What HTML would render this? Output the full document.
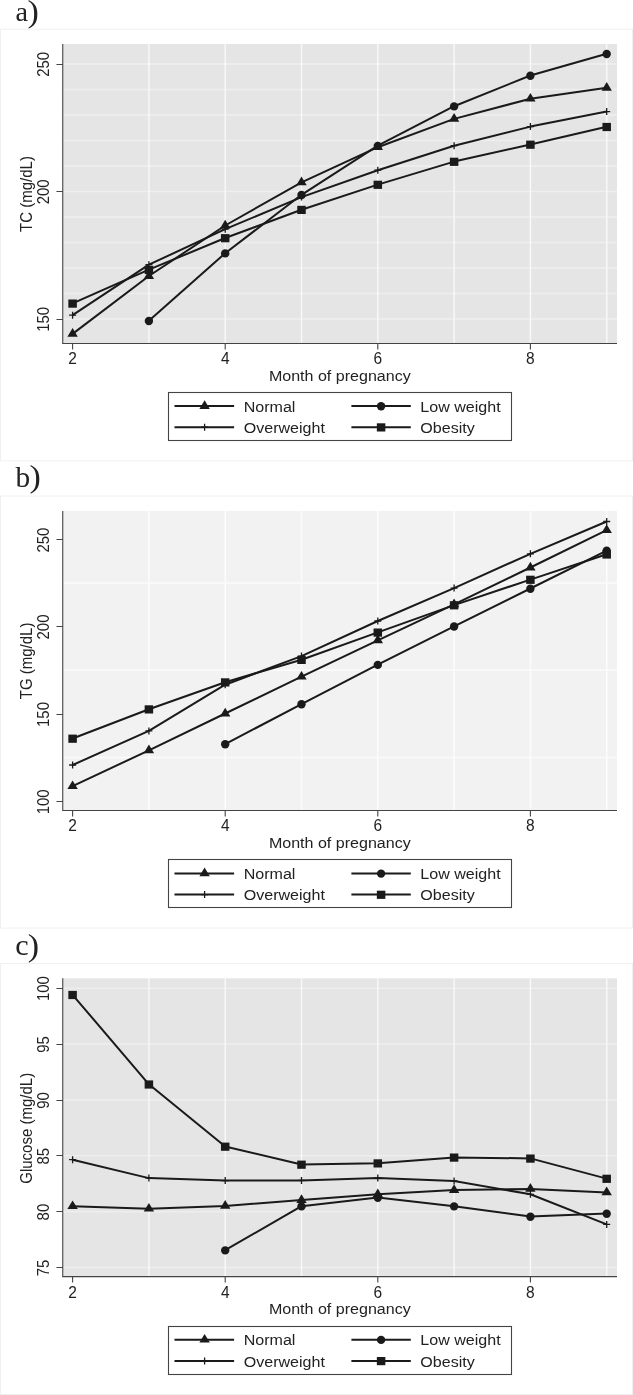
<!DOCTYPE html>
<html><head><meta charset="utf-8"><title>Figure</title>
<style>
html,body{margin:0;padding:0;background:#fff;}
body{width:633px;height:1395px;overflow:hidden;font-family:"Liberation Sans",sans-serif;}
svg{display:block;will-change:transform;filter:grayscale(1);}
text{font-family:"Liberation Sans",sans-serif;fill:#222;}
text.ser{font-family:"Liberation Serif",serif;fill:#222;}
</style></head><body>
<svg width="633" height="1395" viewBox="0 0 633 1395">
<rect width="633" height="1395" fill="#fff"/>
<!-- chart a -->
<text class="ser" transform="translate(15.6 21.0) scale(1 1)" font-size="28.2">a</text>
<text class="ser" transform="translate(27.5 21.7) scale(1.08 1)" font-size="31.5">)</text>
<rect x="0.5" y="29.2" width="632" height="431.6" fill="#fff" stroke="#f0f0f0" stroke-width="1"/>
<rect x="62.75" y="44.0" width="554.25" height="299.5" fill="#e4e5e6"/>
<path d="M62.75 64.0H617.0M62.75 89.5H617.0M62.75 115.0H617.0M62.75 140.5H617.0M62.75 166.0H617.0M62.75 191.5H617.0M62.75 217.0H617.0M62.75 242.5H617.0M62.75 268.0H617.0M62.75 293.5H617.0M62.75 319.0H617.0" stroke="#efeff0" stroke-width="1.5" fill="none"/>
<path d="M148.90 44.0V343.5M225.20 44.0V343.5M301.50 44.0V343.5M377.80 44.0V343.5M454.10 44.0V343.5M530.40 44.0V343.5M606.70 44.0V343.5" stroke="#f8f8f9" stroke-width="1.5" fill="none"/>
<path d="M62.75 44.0V343.5M62.15 343.5H617.0M56.45 64.5H62.75M56.45 191.5H62.75M56.45 319.5H62.75M72.60 343.5V349.5M225.20 343.5V349.5M377.80 343.5V349.5M530.40 343.5V349.5" stroke="#444" stroke-width="1.1" fill="none"/>
<text transform="translate(49.2 64.4) rotate(-90) scale(0.965 1.015)" text-anchor="middle" font-size="15.5">250</text>
<text transform="translate(49.2 191.9) rotate(-90) scale(0.965 1.015)" text-anchor="middle" font-size="15.5">200</text>
<text transform="translate(49.2 319.4) rotate(-90) scale(0.965 1.015)" text-anchor="middle" font-size="15.5">150</text>
<text transform="translate(72.60 363.9) scale(1 1.06)" text-anchor="middle" font-size="15.5">2</text>
<text transform="translate(225.20 363.9) scale(1 1.06)" text-anchor="middle" font-size="15.5">4</text>
<text transform="translate(377.80 363.9) scale(1 1.06)" text-anchor="middle" font-size="15.5">6</text>
<text transform="translate(530.40 363.9) scale(1 1.06)" text-anchor="middle" font-size="15.5">8</text>
<text transform="translate(31.6 194.0) rotate(-90) scale(0.969 1.07)" text-anchor="middle" font-size="15.5">TC (mg/dL)</text>
<text transform="translate(339.8 380.6) scale(1.036 1)" text-anchor="middle" font-size="15.5">Month of pregnancy</text>
<path d="M72.60 333.9L148.90 276.0L225.20 225.5L301.50 182.3L377.80 147.2L454.10 118.9L530.40 98.7L606.70 87.8" stroke="#1c191a" stroke-width="2" fill="none" stroke-linejoin="round"/>
<path d="M148.90 320.8L225.20 253.2L301.50 194.8L377.80 145.7L454.10 106.2L530.40 75.5L606.70 53.8" stroke="#1c191a" stroke-width="2" fill="none" stroke-linejoin="round"/>
<path d="M72.60 315.2L148.90 264.7L225.20 229.2L301.50 197.1L377.80 170.2L454.10 145.7L530.40 126.6L606.70 111.6" stroke="#1c191a" stroke-width="2" fill="none" stroke-linejoin="round"/>
<path d="M72.60 303.4L148.90 269.7L225.20 238.0L301.50 209.7L377.80 184.6L454.10 161.6L530.40 144.5L606.70 126.8" stroke="#1c191a" stroke-width="2" fill="none" stroke-linejoin="round"/>
<path d="M67.40 336.80L77.80 336.80L72.60 328.10Z" fill="#1c191a"/>
<path d="M143.70 278.90L154.10 278.90L148.90 270.20Z" fill="#1c191a"/>
<path d="M220.00 228.40L230.40 228.40L225.20 219.70Z" fill="#1c191a"/>
<path d="M296.30 185.20L306.70 185.20L301.50 176.50Z" fill="#1c191a"/>
<path d="M372.60 150.10L383.00 150.10L377.80 141.40Z" fill="#1c191a"/>
<path d="M448.90 121.80L459.30 121.80L454.10 113.10Z" fill="#1c191a"/>
<path d="M525.20 101.60L535.60 101.60L530.40 92.90Z" fill="#1c191a"/>
<path d="M601.50 90.70L611.90 90.70L606.70 82.00Z" fill="#1c191a"/>
<circle cx="148.90" cy="321.00" r="4.2" fill="#1c191a"/>
<circle cx="225.20" cy="253.40" r="4.2" fill="#1c191a"/>
<circle cx="301.50" cy="195.00" r="4.2" fill="#1c191a"/>
<circle cx="377.80" cy="145.90" r="4.2" fill="#1c191a"/>
<circle cx="454.10" cy="106.40" r="4.2" fill="#1c191a"/>
<circle cx="530.40" cy="75.70" r="4.2" fill="#1c191a"/>
<circle cx="606.70" cy="54.00" r="4.2" fill="#1c191a"/>
<path d="M69.10 315.20H76.10M72.60 311.70V318.70" stroke="#1c191a" stroke-width="1.3" fill="none"/>
<path d="M145.40 264.70H152.40M148.90 261.20V268.20" stroke="#1c191a" stroke-width="1.3" fill="none"/>
<path d="M221.70 229.20H228.70M225.20 225.70V232.70" stroke="#1c191a" stroke-width="1.3" fill="none"/>
<path d="M298.00 197.10H305.00M301.50 193.60V200.60" stroke="#1c191a" stroke-width="1.3" fill="none"/>
<path d="M374.30 170.20H381.30M377.80 166.70V173.70" stroke="#1c191a" stroke-width="1.3" fill="none"/>
<path d="M450.60 145.70H457.60M454.10 142.20V149.20" stroke="#1c191a" stroke-width="1.3" fill="none"/>
<path d="M526.90 126.60H533.90M530.40 123.10V130.10" stroke="#1c191a" stroke-width="1.3" fill="none"/>
<path d="M603.20 111.60H610.20M606.70 108.10V115.10" stroke="#1c191a" stroke-width="1.3" fill="none"/>
<rect x="68.35" y="299.50" width="8.5" height="8.2" fill="#1c191a"/>
<rect x="144.65" y="265.80" width="8.5" height="8.2" fill="#1c191a"/>
<rect x="220.95" y="234.10" width="8.5" height="8.2" fill="#1c191a"/>
<rect x="297.25" y="205.80" width="8.5" height="8.2" fill="#1c191a"/>
<rect x="373.55" y="180.70" width="8.5" height="8.2" fill="#1c191a"/>
<rect x="449.85" y="157.70" width="8.5" height="8.2" fill="#1c191a"/>
<rect x="526.15" y="140.60" width="8.5" height="8.2" fill="#1c191a"/>
<rect x="602.45" y="122.90" width="8.5" height="8.2" fill="#1c191a"/>
<rect x="168.5" y="392.5" width="343" height="48" fill="#fff" stroke="#444" stroke-width="1.1"/>
<path d="M174.5 406.0H234.1" stroke="#1c191a" stroke-width="2"/>
<path d="M199.40 408.90L209.80 408.90L204.60 400.20Z" fill="#1c191a"/>
<text transform="translate(243.7 411.7) scale(1.037 1)" font-size="15.5">Normal</text>
<path d="M351.4 406.0H410.8" stroke="#1c191a" stroke-width="2"/>
<circle cx="381.10" cy="406.20" r="4.2" fill="#1c191a"/>
<text transform="translate(420.3 411.7) scale(1.037 1)" font-size="15.5">Low weight</text>
<path d="M174.5 427.2H234.1" stroke="#1c191a" stroke-width="2"/>
<path d="M201.10 427.20H208.10M204.60 423.70V430.70" stroke="#1c191a" stroke-width="1.3" fill="none"/>
<text transform="translate(243.7 432.9) scale(1.037 1)" font-size="15.5">Overweight</text>
<path d="M351.4 427.2H410.8" stroke="#1c191a" stroke-width="2"/>
<rect x="376.85" y="423.30" width="8.5" height="8.2" fill="#1c191a"/>
<text transform="translate(420.3 432.9) scale(1.037 1)" font-size="15.5">Obesity</text>
<!-- chart b -->
<text class="ser" transform="translate(15.6 486.6) scale(1.04 1.05)" font-size="28.2">b</text>
<text class="ser" transform="translate(29.5 487.3) scale(1.08 1)" font-size="31.5">)</text>
<rect x="0.5" y="496.1" width="632" height="432.0" fill="#fff" stroke="#f0f0f0" stroke-width="1"/>
<rect x="62.75" y="510.9" width="554.25" height="299.6" fill="#f2f2f2"/>
<path d="M62.75 583.1H617.0M62.75 670.3H617.0M62.75 757.6H617.0" stroke="#fbfbfb" stroke-width="1.5" fill="none"/>
<path d="M148.90 510.9V810.5M225.20 510.9V810.5M301.50 510.9V810.5M377.80 510.9V810.5M454.10 510.9V810.5M530.40 510.9V810.5M606.70 510.9V810.5" stroke="#fcfcfc" stroke-width="1.5" fill="none"/>
<path d="M62.75 510.9V810.5M62.15 810.5H617.0M56.45 539.5H62.75M56.45 626.5H62.75M56.45 714.5H62.75M56.45 801.5H62.75M72.60 810.5V816.5M225.20 810.5V816.5M377.80 810.5V816.5M530.40 810.5V816.5" stroke="#444" stroke-width="1.1" fill="none"/>
<text transform="translate(49.2 540.1) rotate(-90) scale(0.965 1.015)" text-anchor="middle" font-size="15.5">250</text>
<text transform="translate(49.2 627.0) rotate(-90) scale(0.965 1.015)" text-anchor="middle" font-size="15.5">200</text>
<text transform="translate(49.2 714.5) rotate(-90) scale(0.965 1.015)" text-anchor="middle" font-size="15.5">150</text>
<text transform="translate(49.2 801.9) rotate(-90) scale(0.965 1.015)" text-anchor="middle" font-size="15.5">100</text>
<text transform="translate(72.60 831.3) scale(1 1.06)" text-anchor="middle" font-size="15.5">2</text>
<text transform="translate(225.20 831.3) scale(1 1.06)" text-anchor="middle" font-size="15.5">4</text>
<text transform="translate(377.80 831.3) scale(1 1.06)" text-anchor="middle" font-size="15.5">6</text>
<text transform="translate(530.40 831.3) scale(1 1.06)" text-anchor="middle" font-size="15.5">8</text>
<text transform="translate(31.6 660.9) rotate(-90) scale(0.969 1.07)" text-anchor="middle" font-size="15.5">TG (mg/dL)</text>
<text transform="translate(339.8 848.0) scale(1.036 1)" text-anchor="middle" font-size="15.5">Month of pregnancy</text>
<path d="M72.60 786.2L148.90 750.3L225.20 713.5L301.50 676.7L377.80 640.4L454.10 604.4L530.40 567.5L606.70 530.1" stroke="#1c191a" stroke-width="2" fill="none" stroke-linejoin="round"/>
<path d="M225.20 744.1L301.50 704.1L377.80 664.7L454.10 626.3L530.40 588.5L606.70 550.6" stroke="#1c191a" stroke-width="2" fill="none" stroke-linejoin="round"/>
<path d="M72.60 765.0L148.90 730.9L225.20 684.7L301.50 656.1L377.80 621.0L454.10 588.1L530.40 553.8L606.70 521.5" stroke="#1c191a" stroke-width="2" fill="none" stroke-linejoin="round"/>
<path d="M72.60 738.5L148.90 709.2L225.20 682.2L301.50 659.7L377.80 632.4L454.10 605.1L530.40 579.6L606.70 554.3" stroke="#1c191a" stroke-width="2" fill="none" stroke-linejoin="round"/>
<path d="M67.40 789.10L77.80 789.10L72.60 780.40Z" fill="#1c191a"/>
<path d="M143.70 753.20L154.10 753.20L148.90 744.50Z" fill="#1c191a"/>
<path d="M220.00 716.40L230.40 716.40L225.20 707.70Z" fill="#1c191a"/>
<path d="M296.30 679.60L306.70 679.60L301.50 670.90Z" fill="#1c191a"/>
<path d="M372.60 643.30L383.00 643.30L377.80 634.60Z" fill="#1c191a"/>
<path d="M448.90 607.30L459.30 607.30L454.10 598.60Z" fill="#1c191a"/>
<path d="M525.20 570.40L535.60 570.40L530.40 561.70Z" fill="#1c191a"/>
<path d="M601.50 533.00L611.90 533.00L606.70 524.30Z" fill="#1c191a"/>
<circle cx="225.20" cy="744.30" r="4.2" fill="#1c191a"/>
<circle cx="301.50" cy="704.30" r="4.2" fill="#1c191a"/>
<circle cx="377.80" cy="664.90" r="4.2" fill="#1c191a"/>
<circle cx="454.10" cy="626.50" r="4.2" fill="#1c191a"/>
<circle cx="530.40" cy="588.70" r="4.2" fill="#1c191a"/>
<circle cx="606.70" cy="550.80" r="4.2" fill="#1c191a"/>
<path d="M69.10 765.00H76.10M72.60 761.50V768.50" stroke="#1c191a" stroke-width="1.3" fill="none"/>
<path d="M145.40 730.90H152.40M148.90 727.40V734.40" stroke="#1c191a" stroke-width="1.3" fill="none"/>
<path d="M221.70 684.70H228.70M225.20 681.20V688.20" stroke="#1c191a" stroke-width="1.3" fill="none"/>
<path d="M298.00 656.10H305.00M301.50 652.60V659.60" stroke="#1c191a" stroke-width="1.3" fill="none"/>
<path d="M374.30 621.00H381.30M377.80 617.50V624.50" stroke="#1c191a" stroke-width="1.3" fill="none"/>
<path d="M450.60 588.10H457.60M454.10 584.60V591.60" stroke="#1c191a" stroke-width="1.3" fill="none"/>
<path d="M526.90 553.80H533.90M530.40 550.30V557.30" stroke="#1c191a" stroke-width="1.3" fill="none"/>
<path d="M603.20 521.50H610.20M606.70 518.00V525.00" stroke="#1c191a" stroke-width="1.3" fill="none"/>
<rect x="68.35" y="734.60" width="8.5" height="8.2" fill="#1c191a"/>
<rect x="144.65" y="705.30" width="8.5" height="8.2" fill="#1c191a"/>
<rect x="220.95" y="678.30" width="8.5" height="8.2" fill="#1c191a"/>
<rect x="297.25" y="655.80" width="8.5" height="8.2" fill="#1c191a"/>
<rect x="373.55" y="628.50" width="8.5" height="8.2" fill="#1c191a"/>
<rect x="449.85" y="601.20" width="8.5" height="8.2" fill="#1c191a"/>
<rect x="526.15" y="575.70" width="8.5" height="8.2" fill="#1c191a"/>
<rect x="602.45" y="550.40" width="8.5" height="8.2" fill="#1c191a"/>
<rect x="168.5" y="859.5" width="343" height="48" fill="#fff" stroke="#444" stroke-width="1.1"/>
<path d="M174.5 873.4H234.1" stroke="#1c191a" stroke-width="2"/>
<path d="M199.40 876.30L209.80 876.30L204.60 867.60Z" fill="#1c191a"/>
<text transform="translate(243.7 879.1) scale(1.037 1)" font-size="15.5">Normal</text>
<path d="M351.4 873.4H410.8" stroke="#1c191a" stroke-width="2"/>
<circle cx="381.10" cy="873.60" r="4.2" fill="#1c191a"/>
<text transform="translate(420.3 879.1) scale(1.037 1)" font-size="15.5">Low weight</text>
<path d="M174.5 894.6H234.1" stroke="#1c191a" stroke-width="2"/>
<path d="M201.10 894.60H208.10M204.60 891.10V898.10" stroke="#1c191a" stroke-width="1.3" fill="none"/>
<text transform="translate(243.7 900.3) scale(1.037 1)" font-size="15.5">Overweight</text>
<path d="M351.4 894.6H410.8" stroke="#1c191a" stroke-width="2"/>
<rect x="376.85" y="890.70" width="8.5" height="8.2" fill="#1c191a"/>
<text transform="translate(420.3 900.3) scale(1.037 1)" font-size="15.5">Obesity</text>
<!-- chart c -->
<text class="ser" transform="translate(15.2 954.9) scale(1.07 1.02)" font-size="28.2">c</text>
<text class="ser" transform="translate(27.7 955.6) scale(1.08 1)" font-size="31.5">)</text>
<rect x="0.5" y="963.5" width="632" height="431.0" fill="#fff" stroke="#f0f0f0" stroke-width="1"/>
<rect x="62.75" y="978.3" width="554.25" height="298.3" fill="#e4e5e6"/>
<path d="M62.75 988.2H617.0M62.75 1044.1H617.0M62.75 1100.0H617.0M62.75 1155.8H617.0M62.75 1211.7H617.0M62.75 1267.5H617.0" stroke="#eeeeef" stroke-width="1.5" fill="none"/>
<path d="M148.90 978.3V1276.6M225.20 978.3V1276.6M301.50 978.3V1276.6M377.80 978.3V1276.6M454.10 978.3V1276.6M530.40 978.3V1276.6M606.70 978.3V1276.6" stroke="#f8f8f9" stroke-width="1.5" fill="none"/>
<path d="M62.75 978.3V1276.6M62.15 1276.6H617.0M56.45 988.5H62.75M56.45 1044.5H62.75M56.45 1100.5H62.75M56.45 1155.5H62.75M56.45 1211.5H62.75M56.45 1267.5H62.75M72.60 1276.6V1282.6M225.20 1276.6V1282.6M377.80 1276.6V1282.6M530.40 1276.6V1282.6" stroke="#444" stroke-width="1.1" fill="none"/>
<text transform="translate(49.2 988.6) rotate(-90) scale(0.965 1.015)" text-anchor="middle" font-size="15.5">100</text>
<text transform="translate(49.2 1044.5) rotate(-90) scale(0.965 1.015)" text-anchor="middle" font-size="15.5">95</text>
<text transform="translate(49.2 1100.4) rotate(-90) scale(0.965 1.015)" text-anchor="middle" font-size="15.5">90</text>
<text transform="translate(49.2 1156.2) rotate(-90) scale(0.965 1.015)" text-anchor="middle" font-size="15.5">85</text>
<text transform="translate(49.2 1212.1) rotate(-90) scale(0.965 1.015)" text-anchor="middle" font-size="15.5">80</text>
<text transform="translate(49.2 1267.9) rotate(-90) scale(0.965 1.015)" text-anchor="middle" font-size="15.5">75</text>
<text transform="translate(72.60 1297.6) scale(1 1.06)" text-anchor="middle" font-size="15.5">2</text>
<text transform="translate(225.20 1297.6) scale(1 1.06)" text-anchor="middle" font-size="15.5">4</text>
<text transform="translate(377.80 1297.6) scale(1 1.06)" text-anchor="middle" font-size="15.5">6</text>
<text transform="translate(530.40 1297.6) scale(1 1.06)" text-anchor="middle" font-size="15.5">8</text>
<text transform="translate(31.6 1128.3) rotate(-90) scale(0.969 1.07)" text-anchor="middle" font-size="15.5">Glucose (mg/dL)</text>
<text transform="translate(339.8 1314.3) scale(1.036 1)" text-anchor="middle" font-size="15.5">Month of pregnancy</text>
<path d="M72.60 1206.2L148.90 1208.7L225.20 1205.9L301.50 1200.0L377.80 1194.3L454.10 1190.1L530.40 1188.9L606.70 1192.4" stroke="#1c191a" stroke-width="2" fill="none" stroke-linejoin="round"/>
<path d="M225.20 1250.2L301.50 1206.2L377.80 1197.6L454.10 1206.2L530.40 1216.5L606.70 1213.5" stroke="#1c191a" stroke-width="2" fill="none" stroke-linejoin="round"/>
<path d="M72.60 1159.7L148.90 1178.1L225.20 1180.6L301.50 1180.4L377.80 1177.9L454.10 1180.9L530.40 1194.3L606.70 1224.4" stroke="#1c191a" stroke-width="2" fill="none" stroke-linejoin="round"/>
<path d="M72.60 994.8L148.90 1084.3L225.20 1146.5L301.50 1164.5L377.80 1163.2L454.10 1157.4L530.40 1158.4L606.70 1178.6" stroke="#1c191a" stroke-width="2" fill="none" stroke-linejoin="round"/>
<path d="M67.40 1209.10L77.80 1209.10L72.60 1200.40Z" fill="#1c191a"/>
<path d="M143.70 1211.60L154.10 1211.60L148.90 1202.90Z" fill="#1c191a"/>
<path d="M220.00 1208.80L230.40 1208.80L225.20 1200.10Z" fill="#1c191a"/>
<path d="M296.30 1202.90L306.70 1202.90L301.50 1194.20Z" fill="#1c191a"/>
<path d="M372.60 1197.20L383.00 1197.20L377.80 1188.50Z" fill="#1c191a"/>
<path d="M448.90 1193.00L459.30 1193.00L454.10 1184.30Z" fill="#1c191a"/>
<path d="M525.20 1191.80L535.60 1191.80L530.40 1183.10Z" fill="#1c191a"/>
<path d="M601.50 1195.30L611.90 1195.30L606.70 1186.60Z" fill="#1c191a"/>
<circle cx="225.20" cy="1250.40" r="4.2" fill="#1c191a"/>
<circle cx="301.50" cy="1206.40" r="4.2" fill="#1c191a"/>
<circle cx="377.80" cy="1197.80" r="4.2" fill="#1c191a"/>
<circle cx="454.10" cy="1206.40" r="4.2" fill="#1c191a"/>
<circle cx="530.40" cy="1216.70" r="4.2" fill="#1c191a"/>
<circle cx="606.70" cy="1213.70" r="4.2" fill="#1c191a"/>
<path d="M69.10 1159.70H76.10M72.60 1156.20V1163.20" stroke="#1c191a" stroke-width="1.3" fill="none"/>
<path d="M145.40 1178.10H152.40M148.90 1174.60V1181.60" stroke="#1c191a" stroke-width="1.3" fill="none"/>
<path d="M221.70 1180.60H228.70M225.20 1177.10V1184.10" stroke="#1c191a" stroke-width="1.3" fill="none"/>
<path d="M298.00 1180.40H305.00M301.50 1176.90V1183.90" stroke="#1c191a" stroke-width="1.3" fill="none"/>
<path d="M374.30 1177.90H381.30M377.80 1174.40V1181.40" stroke="#1c191a" stroke-width="1.3" fill="none"/>
<path d="M450.60 1180.90H457.60M454.10 1177.40V1184.40" stroke="#1c191a" stroke-width="1.3" fill="none"/>
<path d="M526.90 1194.30H533.90M530.40 1190.80V1197.80" stroke="#1c191a" stroke-width="1.3" fill="none"/>
<path d="M603.20 1224.40H610.20M606.70 1220.90V1227.90" stroke="#1c191a" stroke-width="1.3" fill="none"/>
<rect x="68.35" y="990.90" width="8.5" height="8.2" fill="#1c191a"/>
<rect x="144.65" y="1080.40" width="8.5" height="8.2" fill="#1c191a"/>
<rect x="220.95" y="1142.60" width="8.5" height="8.2" fill="#1c191a"/>
<rect x="297.25" y="1160.60" width="8.5" height="8.2" fill="#1c191a"/>
<rect x="373.55" y="1159.30" width="8.5" height="8.2" fill="#1c191a"/>
<rect x="449.85" y="1153.50" width="8.5" height="8.2" fill="#1c191a"/>
<rect x="526.15" y="1154.50" width="8.5" height="8.2" fill="#1c191a"/>
<rect x="602.45" y="1174.70" width="8.5" height="8.2" fill="#1c191a"/>
<rect x="168.5" y="1326.5" width="343" height="48" fill="#fff" stroke="#444" stroke-width="1.1"/>
<path d="M174.5 1339.7H234.1" stroke="#1c191a" stroke-width="2"/>
<path d="M199.40 1342.60L209.80 1342.60L204.60 1333.90Z" fill="#1c191a"/>
<text transform="translate(243.7 1345.4) scale(1.037 1)" font-size="15.5">Normal</text>
<path d="M351.4 1339.7H410.8" stroke="#1c191a" stroke-width="2"/>
<circle cx="381.10" cy="1339.90" r="4.2" fill="#1c191a"/>
<text transform="translate(420.3 1345.4) scale(1.037 1)" font-size="15.5">Low weight</text>
<path d="M174.5 1360.9H234.1" stroke="#1c191a" stroke-width="2"/>
<path d="M201.10 1360.90H208.10M204.60 1357.40V1364.40" stroke="#1c191a" stroke-width="1.3" fill="none"/>
<text transform="translate(243.7 1366.6) scale(1.037 1)" font-size="15.5">Overweight</text>
<path d="M351.4 1360.9H410.8" stroke="#1c191a" stroke-width="2"/>
<rect x="376.85" y="1357.00" width="8.5" height="8.2" fill="#1c191a"/>
<text transform="translate(420.3 1366.6) scale(1.037 1)" font-size="15.5">Obesity</text>
</svg></body></html>
